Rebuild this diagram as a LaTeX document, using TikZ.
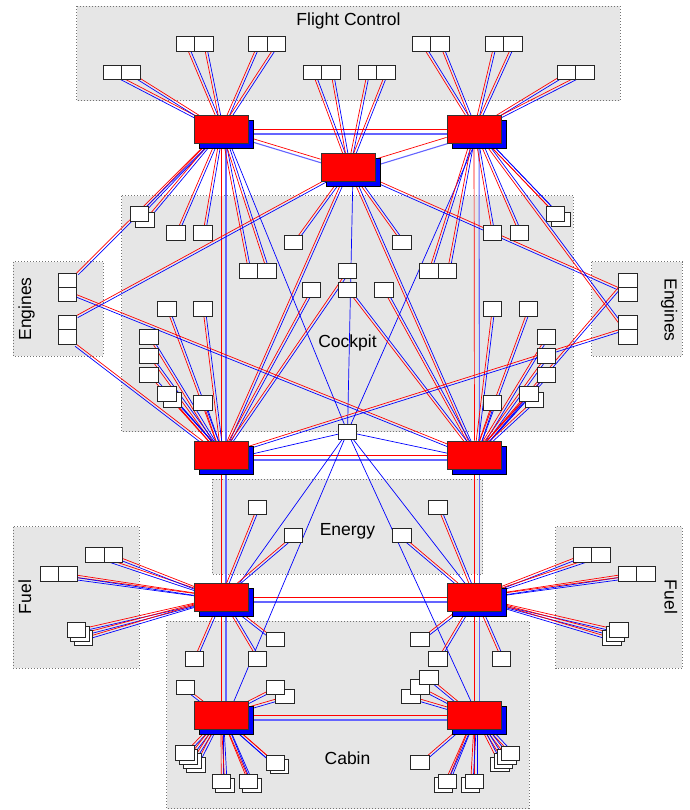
\documentclass[tikz,border=0pt]{standalone}
\usepackage{fontspec}
\setmainfont{Liberation Sans}
\usetikzlibrary{calc}
\pgfdeclarelayer{back}
\pgfdeclarelayer{lines}
\pgfsetlayers{back,lines,main}
\tikzset{
 grp/.style={draw=black!55, dash pattern=on 0.9pt off 2.1pt, line width=0.9pt, fill={rgb,255:red,230;green,230;blue,230}},
 glabel/.style={font=\fontsize{17.5}{20}\selectfont, inner sep=0},
 es/.style={draw=black!85, fill=white, line width=0.9pt, minimum width=18.5pt, minimum height=14.5pt, inner sep=0, outer sep=0},
 swa/.style={draw=black!80, fill=red, line width=0.9pt, minimum width=54pt, minimum height=28pt, inner sep=0},
 swb/.style={draw=black, fill=blue, line width=0.9pt, minimum width=54pt, minimum height=28pt, inner sep=0},
 rl/.style={draw=red, line width=0.7pt},
 bl/.style={draw=blue, line width=0.7pt},
 sbl/.style={draw={rgb,255:red,100;green,100;blue,255}, line width=1.1pt},
}
% red line to the red switch, blue line beside it (offset to the right / below)
\newcommand\ab[2]{%
  \draw[rl] ($(#1)$) -- ($(A#2)$);
  \draw[bl] let \p1=($(A#2)-(#1)$), \n2={veclen(\x1,\y1)}, \n3={ifthenelse(-\y1-\x1>0,1,-1)},
    \n4={-\n3*\y1/\n2*2.4}, \n5={\n3*\x1/\n2*2.4} in
    ($(#1)+(\n4,\n5)$) -- ($(A#2)+(\n4,\n5)$);
}
\newcommand\swi[3]{\node[swb] (B#1) at (#2+5,#3+5) {}; \node[swa] (A#1) at (#2,#3) {};}
\newcommand\es[3]{\node[es] (#1) at (#2,#3) {};}
\newcommand\swl[2]{\draw[rl] (A#1) -- (A#2); \draw[sbl] (B#1) -- (B#2);}
\begin{document}
\begin{tikzpicture}[x=1pt,y=-1pt]
\useasboundingbox (0,0) rectangle (689,810);
\begin{pgfonlayer}{back}
\draw[grp] (76.5,6) rectangle (620,100.7);
\draw[grp] (121.7,195.7) rectangle (573.3,431.7);
\draw[grp] (13.3,261.7) rectangle (103.3,356);
\draw[grp] (591.7,261.7) rectangle (682.3,356);
\draw[grp] (212,479.3) rectangle (482.7,574);
\draw[grp] (13.3,526.7) rectangle (139.3,668.3);
\draw[grp] (555.7,526.7) rectangle (682.3,668.3);
\draw[grp] (166.7,621) rectangle (529,808.5);
\end{pgfonlayer}
% labels
\node[glabel, anchor=base] (lfc) at (348.5,25.2) {Flight Control};
\node[glabel, anchor=base] (lck) at (347.5,347.5) {Cockpit};
\node[glabel, anchor=base] (len) at (347.5,535.5) {Energy};
\node[glabel, anchor=base] (lcb) at (347.5,764.5) {Cabin};
\node[glabel, anchor=base, rotate=90] (lel) at (31,309) {Engines};
\node[glabel, anchor=base, rotate=-90] (ler) at (664.5,310) {Engines};
\node[glabel, anchor=base, rotate=90] (lfl) at (31,597) {Fuel};
\node[glabel, anchor=base, rotate=-90] (lfr) at (664.5,597) {Fuel};
% switches
\swi{1}{221}{129}
\swi{2}{474}{129}
\swi{3}{348}{167.5}
\swi{4}{221}{455}
\swi{5}{474.5}{455}
\swi{6}{221}{597}
\swi{7}{474.5}{597}
\swi{8}{221}{715}
\swi{9}{474.5}{715}
% flight control
\es{fa1}{112.25}{72.5}\es{fa2}{130.75}{72.5}
\es{fb1}{185.25}{44}\es{fb2}{203.75}{44}
\es{fc1}{258}{44}\es{fc2}{276.5}{44}
\es{fd1}{312.5}{72.5}\es{fd2}{331}{72.5}
\es{fe1}{367.25}{72.5}\es{fe2}{385.75}{72.5}
\es{ff1}{421.25}{44}\es{ff2}{439.75}{44}
\es{fg1}{494.25}{44}\es{fg2}{512.75}{44}
\es{fh1}{566.6}{72.5}\es{fh2}{585.1}{72.5}
% cockpit upper
\es{ctl2}{145}{220}\es{ctl1}{139.5}{214}
\es{c1}{176}{233}\es{c2}{203}{233}
\es{cp1}{248.5}{270.7}\es{cp2}{267}{270.7}
\es{c3}{293.3}{242.5}
\es{c4}{311.3}{290}
\es{cm1}{347.5}{271}\es{cm2}{347.5}{290}
\es{c5}{383.7}{290}
\es{c6}{402}{242.5}
\es{cq1}{429}{270.7}\es{cq2}{447.5}{270.7}
\es{c7}{492.3}{233}\es{c8}{519.3}{233}
\es{ctr2}{561}{219.7}\es{ctr1}{555.5}{214}
% cockpit lower
\es{c9}{166.8}{308.8}\es{c10}{203}{308.8}
\es{cc1}{148.8}{337}\es{cc2}{148.8}{356}\es{cc3}{148.8}{375}
\es{cs2}{172.5}{400}\es{cs1}{166.8}{393.8}
\es{c11}{203}{403}
\es{c12}{492.3}{308.8}\es{c13}{528.3}{308.8}
\es{cd1}{546.3}{337}\es{cd2}{546.3}{356}\es{cd3}{546.3}{375}
\es{cu2}{534.2}{400}\es{cu1}{528.8}{393.8}
\es{c14}{492.3}{403}
\es{cx}{347.5}{432}
% engines
\es{eL1}{67.3}{280.3}\es{eL2}{67.3}{294.6}\es{eL3}{67.3}{322.8}\es{eL4}{67.3}{337.1}
\es{eR1}{627.7}{280.3}\es{eR2}{627.7}{294.6}\es{eR3}{627.7}{322.8}\es{eR4}{627.7}{337.1}
% energy
\es{en1}{257.3}{507.2}\es{en2}{293.3}{535.5}\es{en3}{437.8}{507.2}\es{en4}{401.8}{535.5}
% fuel
\es{fl1}{94.7}{554.8}\es{fl2}{113.2}{554.8}\es{fl3}{49.3}{573.8}\es{fl4}{67.8}{573.8}
\es{fls3}{83.5}{638}\es{fls2}{80}{634}\es{fls1}{76.5}{630}
\es{fr1}{582.5}{554.8}\es{fr2}{601}{554.8}\es{fr3}{627.5}{573.8}\es{fr4}{646}{573.8}
\es{frs3}{611.8}{638}\es{frs2}{615.3}{634}\es{frs1}{618.8}{630}
% cabin left
\es{b1}{194.2}{658.7}\es{b2}{257.5}{658.7}\es{b3}{275.5}{639.5}\es{b4}{185.2}{687.2}
\es{b5b}{284.7}{696.5}\es{b5a}{275.5}{687.2}
\es{b6d}{195.8}{764.8}\es{b6c}{192.2}{760.8}\es{b6b}{188.6}{756.8}\es{b6a}{185}{752.8}
\es{b7b}{224.8}{785.5}\es{b7a}{221.2}{781.5}
\es{b8b}{251.8}{785.5}\es{b8a}{248.2}{781.5}
\es{b9b}{279.2}{766.3}\es{b9a}{275.5}{762.8}
% cabin right
\es{r1}{419.8}{639.5}\es{r2}{437.8}{658.7}\es{r3}{501.5}{658.7}
\es{r4c}{410.8}{696.3}\es{r4b}{420}{686.7}\es{r4a}{428.8}{677.2}
\es{r5}{420}{762.2}
\es{r6b}{443.5}{785}\es{r6a}{447.5}{781.3}
\es{r7b}{470.5}{785}\es{r7a}{474.5}{781.3}
\es{r8d}{499.7}{764.5}\es{r8c}{503.3}{760.7}\es{r8b}{506.9}{756.9}\es{r8a}{510.5}{753.2}
\begin{pgfonlayer}{lines}
% switch links
\swl{1}{2}\swl{1}{3}\swl{2}{3}\swl{1}{4}\swl{2}{5}\swl{4}{5}
\swl{4}{6}\swl{5}{7}\swl{6}{7}\swl{6}{8}\swl{7}{9}\swl{8}{9}
\ab{A3}{4}\ab{A3}{5}
% monitor
\foreach \k in {1,...,9} {\draw[bl] (cx) -- (B\k);}
% flight control
\foreach \e in {fa1,fa2,fb1,fb2,fc1,fc2} {\ab{\e}{1}}
\foreach \e in {fd1,fd2,fe1,fe2} {\ab{\e}{3}}
\foreach \e in {ff1,ff2,fg1,fg2,fh1,fh2} {\ab{\e}{2}}
% cockpit
\foreach \e in {ctl1,ctl2,c1,c2,cp1,cp2} {\ab{\e}{1}}
\foreach \e in {c3,c6} {\ab{\e}{3}}
\foreach \e in {cq1,cq2,c7,c8,ctr1,ctr2} {\ab{\e}{2}}
\foreach \e in {c4,cm1,c9,c10,cc1,cc2,cc3,cs1,cs2,c11} {\ab{\e}{4}}
\foreach \e in {c5,cm2,c12,c13,cd1,cd2,cd3,cu1,cu2,c14} {\ab{\e}{5}}
% engines
\ab{eL1.north east}{1}\ab{eL2.east}{5}\ab{eL3.north east}{3}\ab{eL4.south east}{4}
\ab{eR1.south west}{3}\ab{eR2.north west}{5}\ab{eR3.west}{2}\ab{eR4.north west}{4}
% energy and fuel
\foreach \e in {en1,en2,fl1,fl2,fl3,fl4,fls1,fls2,fls3,b1,b2,b3} {\ab{\e}{6}}
\foreach \e in {en3,en4,fr1,fr2,fr3,fr4,frs1,frs2,frs3,r1,r2,r3} {\ab{\e}{7}}
% cabin
\foreach \e in {b4,b5a,b5b,b6a,b6b,b6c,b6d,b7a,b7b,b8a,b8b,b9a,b9b} {\ab{\e}{8}}
\foreach \e in {r4a,r4b,r4c,r5,r6a,r6b,r7a,r7b,r8a,r8b,r8c,r8d} {\ab{\e}{9}}
\end{pgfonlayer}
\end{tikzpicture}
\end{document}
